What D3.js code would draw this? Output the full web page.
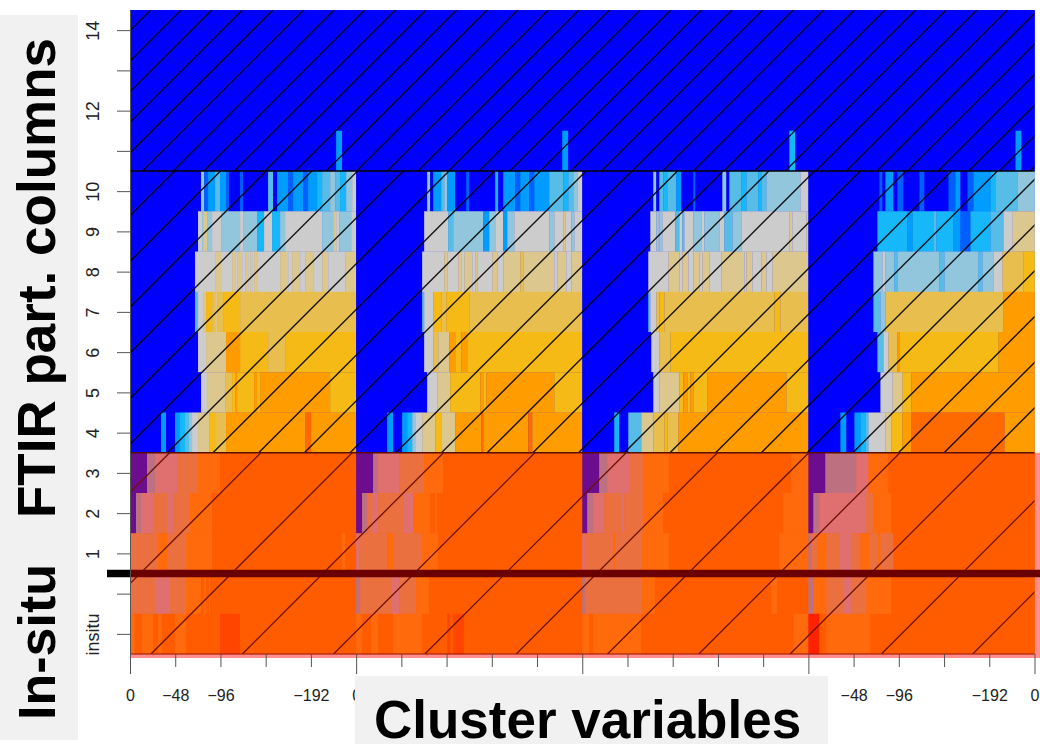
<!DOCTYPE html>
<html>
<head>
<meta charset="utf-8">
<title>FTIR cluster variables</title>
<script src="https://d3js.org/d3.v7.min.js"></script>
<style>
    html, body { margin: 0; padding: 0; background: #fff; }
    svg { display: block; font-family: "Liberation Sans", Arial, sans-serif; }
    .big { font-weight: bold; font-size: 53px; fill: #000; }
    .axis text { font-size: 18px; fill: #222; }
    .axis line, .axis path { stroke: #555; }
</style>
</head>
<body>
<div id="chart"></div>
<script>
// Heat map rows, top to bottom. Row -1 is the in-situ row.
const rowValues = [14, 13, 12, 11, 10, 9, 8, 7, 6, 5, 4, 3, 2, 1, 0, -1];
const columnsPerPanel = 226;
const panelCount = 4;

// y axis
const yTickValues = [14, 13, 12, 11, 10, 9, 8, 7, 6, 5, 4, 3, 2, 1, 0, -1];
const yTickLabels = { 14: "14", 12: "12", 10: "10", 9: "9", 8: "8", 7: "7", 6: "6", 5: "5", 4: "4", 3: "3", 2: "2", 1: "1", "-1": "insitu" };

// x axis, repeated for each panel
const xTickLabels = ["0", "\u221248", "\u221296", "", "\u2212192"];
// the middle panels sit behind the grey title box, only their first 0 peeks out
const xHiddenTicks = d3.range(6, 16);

// Colour levels of the heat map
const levels = ["B", "M", "S", "C", "L", "P", "G", "T", "O", "Y", "A", "R", "V", "N", "K", "E", "F", "D", "X", "Z"];
const levelColors = ["#0000ff", "#0060ff", "#009cff", "#19b8fa", "#58bde6", "#92c6dc", "#cccccc", "#dcc88f", "#e8bf50", "#f6ba12", "#ff9d00", "#ff6a00",
    "#6c0a90", "#bd7080", "#e07070", "#ea7040", "#ff6a10", "#ff5c00", "#ff4400", "#ff2200"];

// Each row is a flat list: last column of the run, level, last column, level ...
const allBlue = [226, "B"];

const panel1 = [
    allBlue, allBlue, allBlue,
    [206, "B", 212, "S", 226, "B"],
    [71, "B", 74, "P", 78, "M", 85, "S", 90, "L", 96, "S", 99, "M", 110, "B", 113, "M", 138, "B", 143, "L", 147, "B", 158, "S", 163, "M", 173, "S", 178, "M", 187, "S", 192, "C", 200, "L", 205, "P", 210, "L", 216, "C", 222, "P", 226, "G"],
    [68, "B", 72, "G", 73, "P", 77, "T", 82, "P", 91, "G", 110, "P", 113, "G", 127, "P", 134, "C", 142, "G", 150, "C", 155, "P", 192, "G", 203, "P", 206, "T", 209, "G", 221, "P", 226, "G"],
    [65, "B", 85, "G", 91, "T", 102, "G", 105, "T", 107, "G", 112, "T", 115, "G", 118, "T", 120, "G", 122, "T", 124, "G", 127, "T", 150, "G", 158, "T", 162, "G", 170, "T", 175, "G", 183, "T", 192, "G", 198, "T", 215, "G", 226, "T"],
    [65, "B", 68, "L", 73, "G", 76, "T", 82, "Y", 85, "O", 87, "T", 93, "O", 110, "Y", 226, "O"],
    [68, "B", 76, "G", 96, "T", 110, "A", 138, "Y", 155, "O", 226, "Y"],
    [71, "B", 77, "G", 95, "T", 102, "O", 105, "Y", 107, "A", 124, "Y", 127, "A", 130, "Y", 200, "A", 226, "Y"],
    [31, "B", 36, "S", 45, "B", 50, "S", 55, "C", 59, "L", 62, "P", 68, "G", 79, "T", 85, "Y", 96, "O", 175, "A", 181, "R", 226, "A"],
    [17, "V", 25, "N", 47, "K", 59, "E", 68, "E", 90, "F", 226, "D"],
    [6, "V", 11, "N", 23, "K", 37, "E", 43, "K", 60, "E", 82, "F", 226, "D"],
    [28, "E", 37, "F", 40, "E", 56, "E", 82, "F", 212, "D", 215, "F", 226, "D"],
    [25, "E", 40, "K", 56, "E", 71, "F", 74, "D", 76, "F", 79, "D", 80, "F", 226, "D"],
    [5, "F", 12, "D", 23, "F", 28, "D", 32, "F", 45, "D", 56, "F", 90, "D", 110, "X", 226, "D"]
];

const panel2 = [
    allBlue, allBlue, allBlue,
    [206, "B", 212, "S", 226, "B"],
    [71, "B", 74, "P", 77, "B", 85, "S", 88, "L", 91, "P", 99, "S", 110, "B", 113, "M", 139, "B", 142, "C", 147, "B", 159, "S", 164, "M", 173, "S", 178, "M", 193, "S", 207, "L", 212, "C", 217, "L", 221, "P", 226, "G"],
    [68, "B", 92, "G", 97, "L", 127, "P", 133, "S", 139, "P", 147, "G", 151, "S", 158, "P", 193, "G", 198, "P", 207, "G", 209, "T", 215, "G", 218, "P", 226, "G"],
    [66, "B", 88, "G", 91, "T", 102, "G", 105, "T", 108, "G", 116, "T", 119, "G", 121, "T", 136, "G", 141, "T", 147, "G", 164, "T", 167, "O", 198, "T", 201, "G", 210, "T", 215, "G", 226, "T"],
    [66, "B", 68, "L", 77, "G", 85, "Y", 90, "O", 113, "Y", 226, "O"],
    [68, "B", 77, "G", 82, "O", 93, "T", 99, "A", 105, "Y", 111, "A", 226, "Y"],
    [71, "B", 81, "G", 94, "T", 124, "Y", 127, "A", 130, "Y", 198, "A", 226, "Y"],
    [31, "B", 37, "S", 46, "B", 51, "S", 56, "C", 59, "P", 66, "G", 79, "T", 85, "Y", 99, "T", 125, "A", 127, "R", 172, "A", 176, "R", 226, "A"],
    [17, "V", 22, "N", 43, "K", 60, "E", 68, "E", 87, "F", 226, "D"],
    [6, "V", 11, "N", 16, "E", 22, "K", 47, "E", 57, "K", 74, "F", 79, "D", 81, "F", 226, "D"],
    [3, "K", 31, "E", 37, "F", 66, "E", 82, "F", 226, "D"],
    [4, "N", 35, "E", 43, "K", 60, "E", 73, "F", 226, "D"],
    [6, "F", 15, "D", 22, "F", 37, "D", 66, "F", 91, "D", 94, "X", 97, "D", 108, "X", 226, "D"]
];

const panel3 = [
    allBlue, allBlue, allBlue,
    [207, "B", 213, "C", 226, "B"],
    [71, "B", 74, "P", 77, "B", 81, "L", 85, "C", 94, "L", 99, "S", 111, "B", 113, "M", 140, "B", 144, "P", 147, "B", 159, "L", 164, "C", 176, "L", 179, "C", 184, "L", 218, "P", 226, "G"],
    [68, "B", 74, "G", 76, "P", 77, "G", 80, "P", 93, "G", 97, "L", 100, "G", 102, "L", 111, "G", 119, "P", 122, "G", 137, "P", 142, "G", 150, "L", 159, "P", 207, "G", 210, "T", 224, "G", 226, "T"],
    [66, "B", 86, "G", 97, "T", 100, "G", 106, "T", 111, "G", 117, "T", 120, "G", 127, "T", 139, "G", 162, "T", 164, "G", 170, "T", 179, "G", 184, "T", 190, "G", 226, "T"],
    [66, "B", 68, "L", 74, "G", 77, "O", 82, "Y", 192, "O", 198, "Y", 226, "O"],
    [69, "B", 77, "G", 88, "O", 226, "Y"],
    [71, "B", 77, "G", 97, "T", 101, "Y", 105, "A", 108, "Y", 111, "A", 125, "Y", 204, "A", 226, "Y"],
    [32, "B", 37, "C", 46, "B", 59, "L", 71, "T", 82, "O", 85, "Y", 96, "O", 226, "A"],
    [17, "V", 25, "N", 48, "K", 61, "E", 87, "F", 209, "D", 226, "F"],
    [5, "V", 11, "N", 22, "K", 39, "E", 42, "K", 61, "E", 81, "F", 201, "D", 226, "F"],
    [3, "K", 31, "E", 33, "F", 59, "E", 87, "F", 197, "D", 226, "F"],
    [3, "N", 59, "E", 73, "F", 189, "D", 195, "F", 226, "D"],
    [1, "F", 7, "F", 11, "D", 59, "F", 211, "D", 226, "F"]
];

const panel4 = [
    allBlue, allBlue, allBlue,
    [207, "B", 213, "S", 226, "B"],
    [71, "B", 74, "M", 77, "B", 85, "S", 89, "B", 95, "M", 111, "B", 116, "M", 140, "B", 147, "M", 152, "S", 159, "B", 165, "M", 182, "S", 187, "C", 209, "L", 226, "P"],
    [69, "B", 99, "C", 104, "S", 125, "C", 128, "L", 145, "C", 152, "S", 162, "M", 182, "C", 195, "L", 204, "G", 226, "T"],
    [65, "B", 74, "P", 77, "G", 86, "P", 89, "L", 131, "P", 136, "L", 170, "P", 174, "L", 185, "P", 194, "G", 215, "O", 226, "Y"],
    [65, "B", 72, "L", 77, "P", 195, "O", 226, "A"],
    [69, "B", 75, "L", 80, "G", 89, "O", 91, "A", 190, "Y", 226, "A"],
    [72, "B", 84, "G", 94, "T", 103, "Y", 226, "A"],
    [32, "B", 38, "S", 46, "B", 52, "S", 57, "C", 60, "L", 77, "G", 83, "T", 94, "Y", 103, "A", 196, "R", 226, "A"],
    [17, "V", 48, "N", 60, "K", 80, "F", 226, "D"],
    [5, "V", 11, "N", 58, "K", 65, "E", 83, "F", 226, "D"],
    [3, "N", 9, "E", 18, "F", 31, "E", 43, "K", 52, "E", 61, "F", 69, "E", 72, "F", 85, "E", 226, "D"],
    [5, "N", 18, "F", 35, "E", 43, "K", 58, "E", 83, "F", 226, "D"],
    [11, "Z", 18, "D", 25, "F", 62, "F", 226, "D"]
];

const panels = [panel1, panel2, panel3, panel4];

// Set up dimensions
const width = 1040;
const height = 744;

const color = d3.scaleOrdinal().domain(levels).range(levelColors);
const x = d3.scaleLinear().domain([0, panelCount * columnsPerPanel]).range([130, 1034.5]);
const y = d3.scaleLinear().domain([-1.5, 14.5]).range([654, 10]);

// Flatten the runs into one list of cells
const cells = [];
panels.forEach((rows, p) => {
    rows.forEach((row, r) => {
        let start = 0;
        for (let i = 0; i < row.length; i += 2) {
            cells.push({ panel: p, row: rowValues[r], start: start, end: row[i], level: row[i + 1] });
            start = row[i];
        }
    });
});

const svg = d3.select("#chart").append("svg")
    .attr("width", width)
    .attr("height", height)
    .attr("viewBox", [0, 0, width, height]);

// Soft edges, the original is a resampled bitmap
const defs = svg.append("defs");
defs.append("filter")
    .attr("id", "soft")
    .attr("x", "-1%").attr("y", "-1%").attr("width", "102%").attr("height", "102%")
    .append("feGaussianBlur")
    .attr("stdDeviation", "0.7 0.35");

// Pink backing, shows at the right and bottom of the lower block
svg.append("rect")
    .attr("x", x(0))
    .attr("y", y(3.5))
    .attr("width", width - x(0))
    .attr("height", y(-1.5) + 4 - y(3.5))
    .attr("fill", "#ff8f8f");

svg.append("rect")
    .attr("x", x(0))
    .attr("y", y(14.5))
    .attr("width", x(panelCount * columnsPerPanel) - x(0))
    .attr("height", y(3.5) - y(14.5))
    .attr("fill", color("B"));

svg.append("rect")
    .attr("x", x(0))
    .attr("y", y(3.5))
    .attr("width", x(panelCount * columnsPerPanel) - x(0))
    .attr("height", y(-1.5) - y(3.5))
    .attr("fill", color("D"));

// Heat map cells
svg.append("g")
    .attr("filter", "url(#soft)")
    .selectAll("rect")
    .data(cells)
    .join("rect")
    .attr("x", d => x(d.panel * columnsPerPanel + d.start))
    .attr("y", d => y(d.row + 0.5))
    .attr("width", d => x(d.end) - x(d.start) + 0.3)
    .attr("height", d => y(d.row - 0.5) - y(d.row + 0.5) + 0.3)
    .attr("fill", d => color(d.level));

// Diagonal hatching of the three blocks
const hatches = [
    { id: "hTop", top: 14.5, bottom: 10.5, spacing: 30.6, phase: 283, stroke: "#000", sw: 1.3, op: 0.9 },
    { id: "hMid", top: 10.5, bottom: 3.5, spacing: 45.7, phase: 620, stroke: "#000", sw: 1.4, op: 0.9 },
    { id: "hLow", top: 3.5, bottom: -1.5, spacing: 91.3, phase: 805, stroke: "#6e1200", sw: 1.3, op: 1 }
];

hatches.forEach(h => {
    const y0 = y(h.top), y1 = y(h.bottom);
    defs.append("clipPath").attr("id", h.id)
        .append("rect")
        .attr("x", x(0))
        .attr("y", y0)
        .attr("width", x(panelCount * columnsPerPanel) - x(0))
        .attr("height", y1 - y0);

    const sums = d3.range(h.phase - h.spacing * 40, x.range()[1] + y1 + h.spacing, h.spacing)
        .filter(c => c - y1 <= x.range()[1] && c - y0 >= x.range()[0]);

    svg.append("g")
        .attr("clip-path", `url(#${h.id})`)
        .selectAll("line")
        .data(sums)
        .join("line")
        .attr("x1", c => c - y0)
        .attr("y1", y0)
        .attr("x2", c => c - y1)
        .attr("y2", y1)
        .attr("stroke", h.stroke)
        .attr("stroke-width", h.sw)
        .attr("stroke-opacity", h.op);
});

// Block borders
const right = x(panelCount * columnsPerPanel);
[[10.5, "#000", 1.5], [3.5, "#5a0c00", 1.5], [-1.5, "#a01010", 1.2]].forEach(b => {
    svg.append("line")
        .attr("x1", x(0)).attr("x2", right)
        .attr("y1", y(b[0])).attr("y2", y(b[0]))
        .attr("stroke", b[1])
        .attr("stroke-width", b[2]);
});

// Separator between FTIR and in-situ rows
svg.append("line")
    .attr("x1", 107).attr("x2", x(0))
    .attr("y1", y(0.5)).attr("y2", y(0.5))
    .attr("stroke", "#000").attr("stroke-width", 7.5);
svg.append("line")
    .attr("x1", x(0)).attr("x2", width)
    .attr("y1", y(0.5)).attr("y2", y(0.5))
    .attr("stroke", "#6b0000").attr("stroke-width", 7.5);

// y axis
const yAxis = d3.axisLeft(y)
    .tickValues(yTickValues)
    .tickSize(13)
    .tickSizeOuter(0)
    .tickPadding(18)
    .tickFormat(d => yTickLabels[d] || "");

const yG = svg.append("g")
    .attr("class", "axis")
    .attr("transform", `translate(${x(0)},0)`)
    .call(yAxis);

yG.selectAll(".tick text")
    .attr("transform", function () {
        const tx = d3.select(this).attr("x");
        return `rotate(-90,${tx},0)`;
    })
    .attr("text-anchor", "middle")
    .attr("dy", "0");

// x axis
const panelTicks = d3.range(0, panelCount * 5 + 1);
const xAxis = d3.axisBottom(x)
    .tickValues(panelTicks.map(t => t * columnsPerPanel / 5))
    .tickSize(13)
    .tickSizeOuter(0)
    .tickPadding(24)
    .tickFormat((d, i) => {
        if (xHiddenTicks.includes(i)) return "";
        return i === panelCount * 5 ? "0" : xTickLabels[i % 5];
    });

const xG = svg.append("g")
    .attr("class", "axis")
    .attr("transform", `translate(0,${y(-1.5)})`)
    .call(xAxis);

xG.select(".domain").remove();
xG.selectAll(".tick text")
    .attr("y", 47)
    .attr("dy", "0")
    .style("font-size", "16px");
xG.selectAll(".tick line")
    .attr("y2", (d, i) => i % 5 === 0 ? 20 : 13)
    .attr("stroke", (d, i) => i % 5 === 0 ? "#222" : "#555");

// Grey label panels
svg.append("rect")
    .attr("x", 0).attr("y", 15)
    .attr("width", 78).attr("height", 725)
    .attr("fill", "#f1f1f1");

svg.append("rect")
    .attr("x", 355).attr("y", 676)
    .attr("width", 473).attr("height", 68)
    .attr("fill", "#f1f1f1");

svg.append("text")
    .attr("class", "big")
    .attr("transform", "translate(55,518) rotate(-90)")
    .text("FTIR part. columns");

svg.append("text")
    .attr("class", "big")
    .style("font-size", "52px")
    .attr("transform", "translate(55,720) rotate(-90)")
    .text("In-situ");

svg.append("text")
    .attr("class", "big")
    .attr("x", 374)
    .attr("y", 738)
    .text("Cluster variables");
</script>
</body>
</html>
